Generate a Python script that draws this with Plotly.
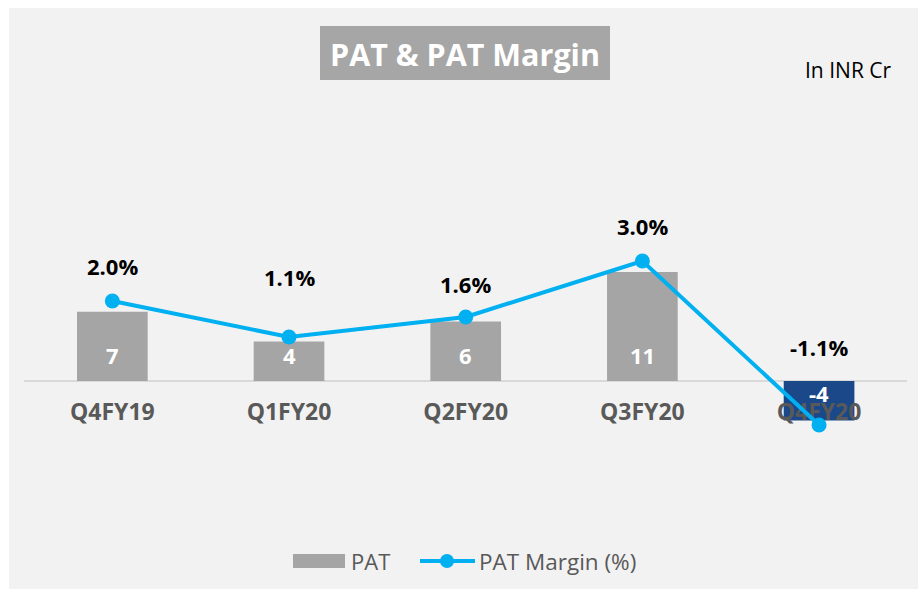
import plotly.graph_objects as go

# ---- data ----
quarters = ["Q4FY19", "Q1FY20", "Q2FY20", "Q3FY20", "Q4FY20"]
pat = [7, 4, 6, 11, -4]
pat_margin = [2.0, 1.1, 1.6, 3.0, -1.1]

# ---- layout constants (pixels) ----
W, H = 918, 589
PLOT_L, PLOT_R = 24, 907.4
PLOT_T, PLOT_B = 120, 500
ZERO_PX = 381
PAT_PX_PER_UNIT = 9.9
MARGIN_PX_PER_PCT = 40.0

above = ZERO_PX - PLOT_T
below = PLOT_B - ZERO_PX
pat_range = [-below / PAT_PX_PER_UNIT, above / PAT_PX_PER_UNIT]
margin_range = [-below / MARGIN_PX_PER_PCT, above / MARGIN_PX_PER_PCT]


def fx(px):
    return px / W


def fy(py):
    return 1 - py / H


FONT = "Open Sans"
GREY_TEXT = "#595959"
BAR_GREY = "#a5a5a5"
BAR_NEG = "#1a4889"
LINE_BLUE = "#00b0f0"

bar_colors = [BAR_GREY if v >= 0 else BAR_NEG for v in pat]

fig = go.Figure()

fig.add_trace(go.Bar(
    x=quarters, y=pat, marker=dict(color=bar_colors, line=dict(width=0)),
    width=0.4, yaxis="y", hoverinfo="skip", showlegend=False,
))

# category labels sit just under the zero line, beneath the margin line
label_offset = -(414 - ZERO_PX) / PAT_PX_PER_UNIT
fig.add_trace(go.Scatter(
    x=quarters, y=[label_offset] * len(quarters), mode="text", text=quarters,
    textposition="middle center",
    textfont=dict(family=FONT, size=23, color=GREY_TEXT, weight="bold"),
    yaxis="y", hoverinfo="skip", showlegend=False,
))

fig.add_trace(go.Scatter(
    x=quarters, y=pat_margin, mode="lines+markers", yaxis="y2",
    line=dict(color=LINE_BLUE, width=4),
    marker=dict(color=LINE_BLUE, size=15),
    hoverinfo="skip", showlegend=False,
))

annotations = []

# PAT values inside the bars, near their base
for q, v in zip(quarters, pat):
    annotations.append(dict(
        x=q, y=0, xref="x", yref="y", text=f"{v}", showarrow=False,
        yshift=26 if v >= 0 else -12,
        font=dict(family=FONT, size=22, color="white", weight="bold"),
    ))

# margin labels above the points
margin_shift = [35, 60, 33, 35, 78]
for q, v, s in zip(quarters, pat_margin, margin_shift):
    annotations.append(dict(
        x=q, y=v, xref="x", yref="y2", text=f"{v:.1f}%", showarrow=False,
        yshift=s, font=dict(family=FONT, size=22, color="black", weight="bold"),
    ))

# title and unit note
annotations.append(dict(
    x=fx(465), y=fy(54), xref="paper", yref="paper", text="PAT & PAT Margin",
    showarrow=False, xanchor="center", yanchor="middle",
    font=dict(family=FONT, size=30.5, color="white", weight="bold"),
))
annotations.append(dict(
    x=fx(894), y=fy(70), xref="paper", yref="paper", text="In INR Cr",
    showarrow=False, xanchor="right", yanchor="middle",
    font=dict(family=FONT, size=21, color="black"),
))

# legend text
annotations.append(dict(
    x=fx(349), y=fy(561), xref="paper", yref="paper", text="PAT",
    showarrow=False, xanchor="left", yanchor="middle",
    font=dict(family=FONT, size=22, color=GREY_TEXT),
))
annotations.append(dict(
    x=fx(477), y=fy(561), xref="paper", yref="paper", text="PAT Margin (%)",
    showarrow=False, xanchor="left", yanchor="middle",
    font=dict(family=FONT, size=22.5, color=GREY_TEXT),
))

shapes = [
    # chart background panel
    dict(type="rect", xref="paper", yref="paper", x0=fx(9), x1=fx(918), y0=fy(589), y1=fy(8),
         fillcolor="#f2f2f2", line=dict(width=0), layer="below"),
    # title box
    dict(type="rect", xref="paper", yref="paper", x0=fx(320), x1=fx(610), y0=fy(80), y1=fy(26),
         fillcolor="#a6a6a6", line=dict(width=0), layer="below"),
    # legend symbols
    dict(type="rect", xref="paper", yref="paper", x0=fx(293), x1=fx(345), y0=fy(568), y1=fy(554),
         fillcolor=BAR_GREY, line=dict(width=0)),
    dict(type="line", xref="paper", yref="paper", x0=fx(420), x1=fx(475), y0=fy(561), y1=fy(561),
         line=dict(color=LINE_BLUE, width=4)),
    dict(type="circle", xref="paper", yref="paper", x0=fx(440), x1=fx(454), y0=fy(568), y1=fy(554),
         fillcolor=LINE_BLUE, line=dict(width=0)),
]

fig.update_layout(
    width=W, height=H,
    margin=dict(l=0, r=0, t=0, b=0, pad=0),
    paper_bgcolor="white", plot_bgcolor="rgba(0,0,0,0)",
    xaxis=dict(domain=[fx(PLOT_L), fx(PLOT_R)], showticklabels=False, showgrid=False,
               zeroline=False, showline=False, ticks="", fixedrange=True),
    yaxis=dict(domain=[fy(PLOT_B), fy(PLOT_T)], range=pat_range, showticklabels=False,
               showgrid=False, zeroline=True, zerolinecolor="#d9d9d9", zerolinewidth=1.5,
               showline=False, ticks=""),
    yaxis2=dict(domain=[fy(PLOT_B), fy(PLOT_T)], range=margin_range, overlaying="y",
                side="right", showticklabels=False, showgrid=False, zeroline=False,
                showline=False, ticks=""),
    bargap=0.6,
    annotations=annotations,
    shapes=shapes,
    showlegend=False,
)

fig.write_html("out.html")
